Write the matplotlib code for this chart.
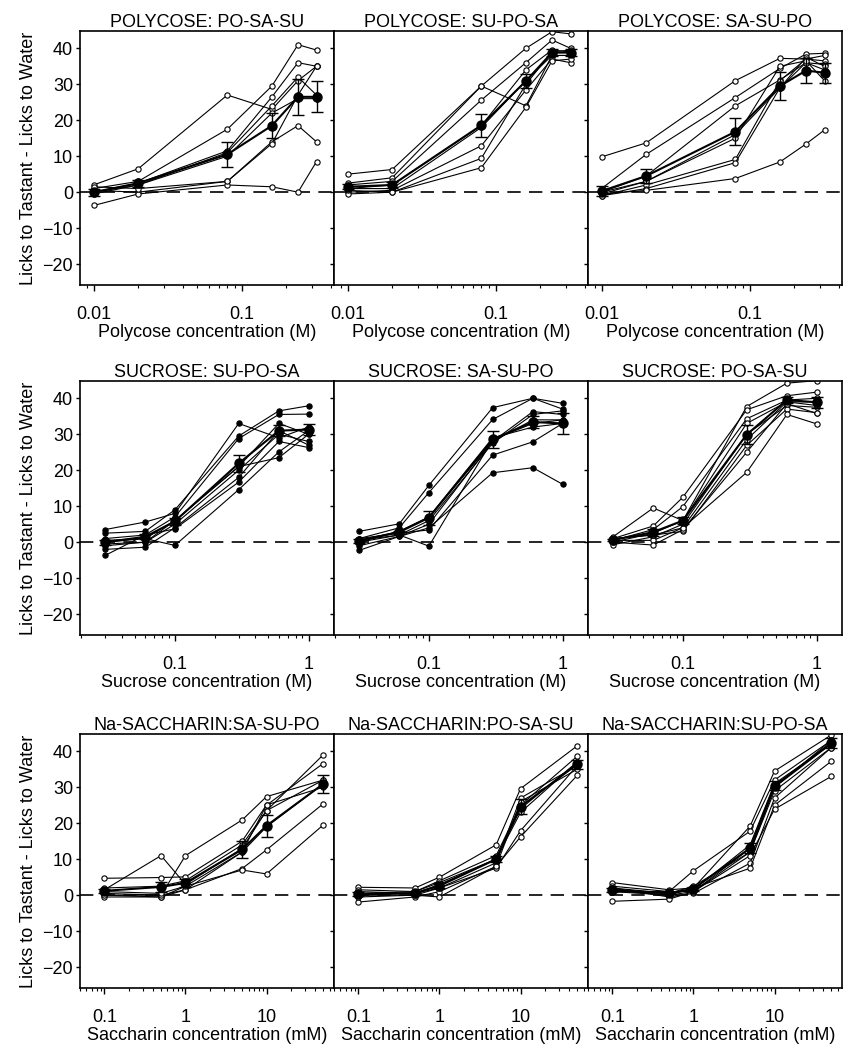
import matplotlib
matplotlib.use("Agg")
import matplotlib.pyplot as plt
from matplotlib.ticker import FixedLocator, LogLocator, NullFormatter

plt.rcParams["font.family"] = ["Liberation Sans", "DejaVu Sans"]
plt.rcParams["font.size"] = 13

# concentrations
poly_conc = [0.01, 0.02, 0.08, 0.16, 0.24, 0.32]
sucrose_conc = [0.03, 0.06, 0.1, 0.3, 0.6, 1.0]
sacch_conc = [0.1, 0.5, 1, 5, 10, 50]

# --- POLYCOSE: PO-SA-SU ---
poly1_subjects = [
    [2, 6.5, 27, 23, 31, 35],
    [1, 3, 17.5, 29.5, 41, 39.5],
    [0, 2.5, 11.5, 26.5, 36, 35],
    [-0.5, 2, 11, 24, 32, 27],
    [0.5, 0, 3, 14, 18.5, 14],
    [-3.7, -0.5, 2, 1.5, 0, 8.5],
    [1.5, 1, 3, 13.5, 27, 35],
    [0, 2, 10, 22, 26, 26],
]
poly1_mean = [0, 2.5, 10.5, 18.5, 26.5, 26.5]
poly1_sem = [1.0, 1.0, 3.5, 3.5, 5.0, 4.3]

# --- POLYCOSE: SU-PO-SA ---
poly2_subjects = [
    [5, 6.3, 29.5, 40, 44.6, 44],
    [2.5, 4, 29.5, 24, 38, 38],
    [2, 3, 25.6, 36, 42.3, 40],
    [1, 2, 18.5, 34, 39.5, 39],
    [1, 1, 18, 31, 38, 38],
    [0, 0.5, 12.9, 28.4, 37, 36],
    [-0.5, 0, 9.4, 30, 39, 39.5],
    [0.5, 0, 6.8, 23.6, 36.5, 37],
]
poly2_mean = [1.5, 2.0, 18.6, 30.9, 38.8, 38.8]
poly2_sem = [0.7, 0.8, 3.2, 2.0, 1.0, 1.0]

# --- POLYCOSE: SA-SU-PO ---
poly3_subjects = [
    [9.8, 13.7, 31, 37.2, 37, 36.5],
    [1, 10.5, 26.3, 34.4, 38.4, 38.6],
    [0, 4.5, 24, 31.2, 36, 35.5],
    [-0.5, 3, 16, 29, 37.5, 35],
    [-1, 2, 9.1, 31, 37, 38],
    [-1, 1, 8.2, 29, 36, 34],
    [-0.5, 0.5, 3.8, 8.4, 13.4, 17.3],
    [0, 3, 15, 35, 36.5, 31],
]
poly3_mean = [0.3, 4.5, 16.8, 29.5, 33.8, 33.2]
poly3_sem = [1.5, 2.0, 3.8, 3.8, 3.4, 2.8]

# --- SUCROSE: SU-PO-SA ---
suc1_subjects = [
    [3.5, 5.6, 8, 33, 29, 32],
    [2.5, 3, 9, 29.5, 36.5, 37.9],
    [1, 2, 7, 28.8, 35.5, 35.6],
    [0, 1, 6, 21, 33, 30],
    [-1, 0, 5, 20, 30, 28],
    [-2, -1.4, 4, 18, 31, 27],
    [-3.7, 2, 3.7, 16.7, 28, 26.3],
    [0.5, 1, -0.9, 14.6, 25.1, 31],
    [-0.5, 0, 6, 21, 23.5, 30],
]
suc1_mean = [0.0, 1.5, 5.8, 21.9, 31.0, 31.3]
suc1_sem = [0.7, 0.7, 1.0, 2.3, 1.5, 1.6]

# --- SUCROSE: SA-SU-PO ---
suc2_subjects = [
    [3, 5.1, 15.8, 37.4, 40, 38.6],
    [1, 4, 13.8, 34.1, 40, 37],
    [0.5, 3, 7, 28, 36.3, 35.5],
    [0, 2, 6, 27.5, 35.5, 36.5],
    [-2.3, 1.6, 5, 28, 34, 34],
    [0, 3, 7, 29, 32, 33],
    [1, 2.5, 3.4, 24.2, 27.9, 33],
    [0.5, 2, -1.1, 28.5, 33, 34],
    [-1, 1.6, 4, 19.3, 20.7, 16.1],
]
suc2_mean = [0.4, 2.8, 6.8, 28.6, 33.4, 33.0]
suc2_sem = [0.5, 0.4, 2.0, 2.4, 1.6, 3.0]

# --- SUCROSE: PO-SA-SU ---
suc3_subjects = [
    [1.5, 9.5, 6, 37.7, 44.2, 44.9],
    [1, 4.5, 12.5, 36.8, 40.7, 41.7],
    [0.5, 3.5, 9.9, 34.3, 39.5, 40],
    [0, 2.5, 6, 33, 39, 39],
    [-0.7, 1.5, 5, 30, 38, 37.5],
    [0.5, 0.5, 4, 28.5, 39, 38],
    [1, 2, 3, 26.9, 37, 36],
    [0, -0.8, 3.5, 25, 38.5, 35.8],
    [1, 2, 4, 19.4, 35.5, 32.9],
]
suc3_mean = [0.6, 2.8, 6.0, 29.9, 39.5, 38.9]
suc3_sem = [0.3, 1.0, 1.0, 2.7, 0.8, 1.5]

# --- Na-SACCHARIN: SA-SU-PO ---
sac1_subjects = [
    [4.7, 4.9, 5.1, 15, 25.1, 30],
    [1.5, 11, 3, 13, 23.5, 32],
    [0.5, 0, 11, 20.9, 27.4, 32],
    [2, 2.5, 4, 14, 23.5, 39],
    [0, -0.5, 2.5, 12, 25, 36.6],
    [-0.5, -0.5, 1.5, 12, 19, 31],
    [0, 0, 1.5, 7.4, 12.6, 25.4],
    [1, 0.5, 2.5, 7, 5.9, 19.5],
]
sac1_mean = [1.2, 2.3, 3.4, 12.7, 19.3, 30.9]
sac1_sem = [0.6, 1.5, 1.2, 2.3, 3.0, 2.5]

# --- Na-SACCHARIN: PO-SA-SU ---
sac2_subjects = [
    [2.2, 2, 5, 14, 29.6, 41.5],
    [1.5, 1, 4, 11, 25, 38.6],
    [1, 0.5, 3, 10, 24, 37],
    [0, 0, 2, 9, 27, 36],
    [-1.9, -0.5, 1, 8, 26, 35],
    [0.5, 1, 3.5, 10, 23, 37],
    [0, 0.5, 2, 7.5, 17.9, 36],
    [-0.5, 0, -0.5, 8, 16.2, 33.3],
]
sac2_mean = [0.3, 0.6, 2.6, 10.0, 24.6, 36.4]
sac2_sem = [0.5, 0.3, 0.7, 0.8, 2.0, 1.2]

# --- Na-SACCHARIN: SU-PO-SA ---
sac3_subjects = [
    [3.5, 1.5, 2, 19.2, 34.5, 44.5],
    [2.5, 1, 6.8, 17.8, 32, 43],
    [2, 0.5, 1.5, 14, 31, 42],
    [1.5, 0, 1, 13, 30, 43],
    [1, 0.5, 2.5, 12, 29, 41],
    [1, 1, 1, 12, 30, 42],
    [2, -0.5, 0.5, 8.9, 27, 41],
    [1, 0, 2, 7.5, 25, 37.2],
    [-1.7, -1.1, 1, 11, 23.9, 33],
]
sac3_mean = [1.5, 0.5, 1.8, 13.1, 30.4, 42.3]
sac3_sem = [0.5, 0.3, 0.6, 1.4, 1.3, 1.3]

titles = [
    "POLYCOSE: PO-SA-SU", "POLYCOSE: SU-PO-SA", "POLYCOSE: SA-SU-PO",
    "SUCROSE: SU-PO-SA", "SUCROSE: SA-SU-PO", "SUCROSE: PO-SA-SU",
    "Na-SACCHARIN:SA-SU-PO", "Na-SACCHARIN:PO-SA-SU", "Na-SACCHARIN:SU-PO-SA",
]
xlabels = ["Polycose concentration (M)", "Sucrose concentration (M)",
           "Saccharin concentration (mM)"]
row_conc = [poly_conc, sucrose_conc, sacch_conc]
row_xlim = [(0.0081, 0.42), (0.0195, 1.55), (0.05, 68)]
row_xticks = [[0.01, 0.1], [0.1, 1], [0.1, 1, 10]]
row_xticklabels = [["0.01", "0.1"], ["0.1", "1"], ["0.1", "1", "10"]]

subjects = [poly1_subjects, poly2_subjects, poly3_subjects,
            suc1_subjects, suc2_subjects, suc3_subjects,
            sac1_subjects, sac2_subjects, sac3_subjects]
means = [poly1_mean, poly2_mean, poly3_mean, suc1_mean, suc2_mean, suc3_mean,
         sac1_mean, sac2_mean, sac3_mean]
sems = [poly1_sem, poly2_sem, poly3_sem, suc1_sem, suc2_sem, suc3_sem,
        sac1_sem, sac2_sem, sac3_sem]
filled_subjects = {3, 4}

W, H = 856, 1050
fig = plt.figure(figsize=(W / 100, H / 100), dpi=100)

col_x = [80, 334, 588]
row_top = [31, 381, 734]
pw, ph = 254, 254

for i in range(9):
    r, c = divmod(i, 3)
    ax = fig.add_axes([col_x[c] / W, 1 - (row_top[r] + ph) / H, pw / W, ph / H])
    x = row_conc[r]

    ax.axhline(0, color="black", lw=1.2, dashes=(8, 5), zorder=1)

    face = "black" if i in filled_subjects else "white"
    for s in subjects[i]:
        ax.plot(x, s, color="black", lw=0.8, marker="o", ms=3.8,
                mfc=face, mec="black", mew=0.8, zorder=2)

    ax.errorbar(x, means[i], yerr=sems[i], color="black", lw=1.5,
                marker="o", ms=6.5, mfc="black", mec="black",
                elinewidth=1.0, capsize=4, capthick=1.0, zorder=3)

    ax.set_xscale("log")
    ax.set_xlim(*row_xlim[r])
    ax.set_ylim(-25.8, 44.8)
    ax.xaxis.set_major_locator(FixedLocator(row_xticks[r]))
    ax.set_xticklabels(row_xticklabels[r])
    ax.xaxis.set_minor_locator(LogLocator(base=10, subs=range(2, 10), numticks=20))
    ax.xaxis.set_minor_formatter(NullFormatter())
    ax.set_yticks(range(-20, 41, 10))
    ax.tick_params(axis="x", which="major", direction="out", length=4, width=1, pad=11)
    ax.tick_params(axis="x", which="minor", direction="out", length=2.5, width=0.8)
    ax.tick_params(axis="y", direction="out", length=3, width=1, pad=2)
    ax.yaxis.set_minor_locator(FixedLocator([]))
    if c > 0:
        ax.set_yticklabels([])
    else:
        ax.set_ylabel("Licks to Tastant - Licks to Water", labelpad=4)

    for sp in ax.spines.values():
        sp.set_linewidth(1.2)

    ax.set_title(titles[i], fontsize=13, pad=3)
    ax.set_xlabel(xlabels[r], labelpad=1)

fig.savefig("out.png", dpi=100)
